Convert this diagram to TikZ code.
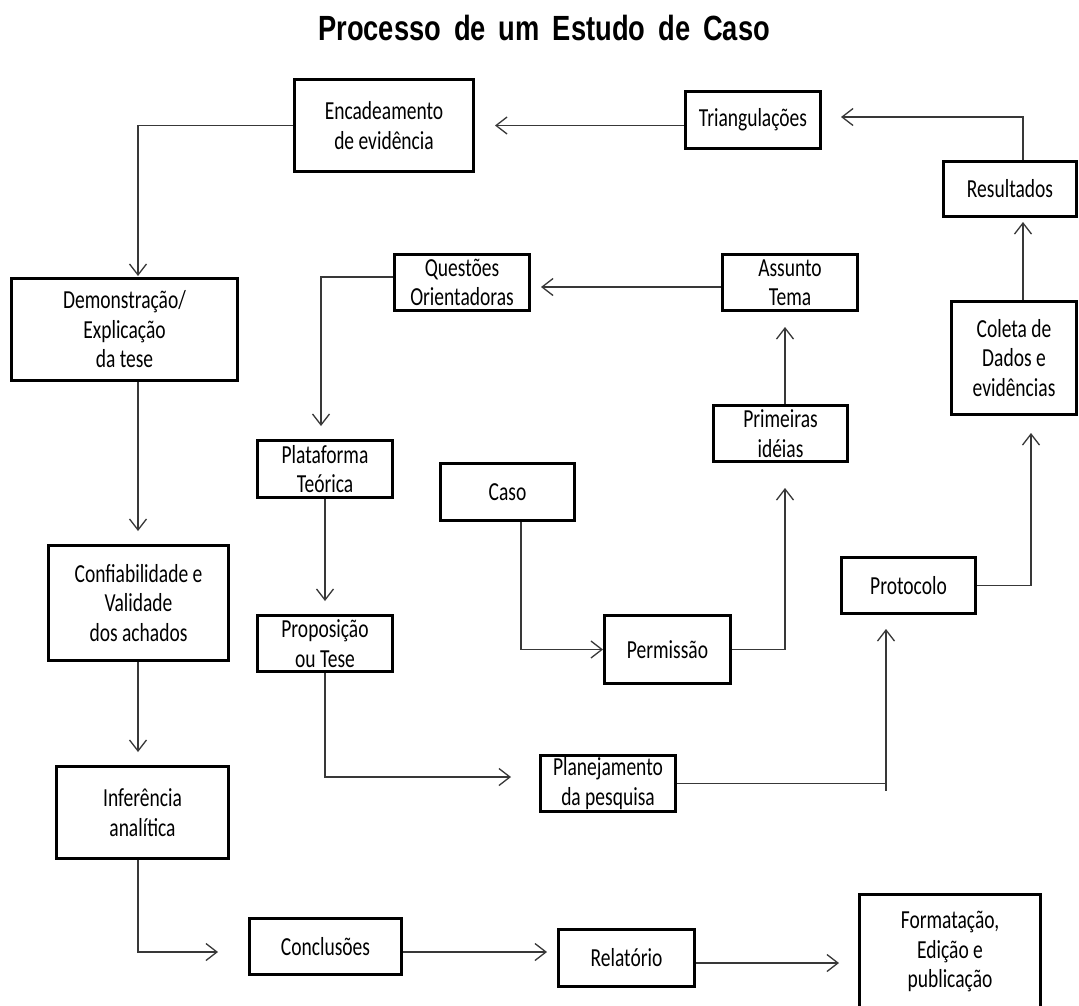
\documentclass[tikz,border=0pt]{standalone}
\usepackage{fontspec}
\setmainfont{Carlito}[FakeStretch=0.75]
\newfontfamily\titlefont{Liberation Sans}[FakeStretch=0.78]
\usetikzlibrary{arrows.meta}
\begin{document}
\begin{tikzpicture}[x=1pt,y=-1pt,
  box/.style={draw=black, line width=3pt, fill=white, inner sep=0pt,
    align=center, font=\fontsize{26}{29.5}\selectfont},
  wire/.style={draw=black!78, line width=1.3pt},
  conn/.style={wire, -{Straight Barb[length=11pt,width=17pt]}}]

\useasboundingbox (0,0) rectangle (1079,1005);
\clip (0,0) rectangle (1079,1005);
\fill[white] (0,0) rectangle (1079,1005);

% title
\node[anchor=base west, inner sep=0pt] (title) at (318,40)
  {\titlefont\bfseries\fontsize{35}{35}\selectfont
   Processo\hspace{13pt}de\hspace{13pt}um\hspace{13pt}Estudo\hspace{13pt}de\hspace{13pt}Caso};

% boxes
\node[box, minimum width=179, minimum height=92]  (enc) at (384,125.5) {Encadeamento\\de evidência};
\node[box, minimum width=135, minimum height=57]  (tri) at (753,120)   {Triangulações};
\node[box, minimum width=133, minimum height=55]  (res) at (1010,189)  {Resultados};
\node[box, minimum width=135, minimum height=56]  (que) at (462,282.5) {Questões\\Orientadoras};
\node[box, minimum width=135, minimum height=56]  (ass) at (790,282.5) {Assunto\\Tema};
\node[box, minimum width=125, minimum height=113] (col) at (1014,358)  {Coleta de\\Dados e\\evidências};
\node[box, minimum width=226, minimum height=102] (dem) at (124.5,329.5) {Demonstração/\\Explicação\\da tese};
\node[box, minimum width=134, minimum height=56]  (pri) at (780.5,433.5) {Primeiras\\idéias};
\node[box, minimum width=135, minimum height=57]  (pla) at (325,469)   {Plataforma\\Teórica};
\node[box, minimum width=134, minimum height=57]  (cas) at (507.5,492) {Caso};
\node[box, minimum width=180, minimum height=115] (con) at (138.5,603) {Confiabilidade e\\Validade\\dos achados};
\node[box, minimum width=134, minimum height=56]  (pro) at (908.5,585.5) {Protocolo};
\node[box, minimum width=135, minimum height=56]  (prp) at (325,643.5) {Proposição\\ou Tese};
\node[box, minimum width=126, minimum height=68]  (per) at (667.5,649.5) {Permissão};
\node[box, minimum width=135, minimum height=56]  (plj) at (608,783.5) {Planejamento\\da pesquisa};
\node[box, minimum width=172, minimum height=92]  (inf) at (142.5,812.5) {Inferência\\analítica};
\node[box, minimum width=152, minimum height=56]  (clu) at (325.5,946.5) {Conclusões};
\node[box, minimum width=136, minimum height=57]  (rel) at (626.5,958) {Relatório};
\node[box, minimum width=181, minimum height=114] (fmt) at (950,951.5) {Formatação,\\Edição e\\publicação};

% guide positions for the routed connectors
\coordinate (xd) at (138,0);
\coordinate (xv) at (321,0);
\coordinate (xk) at (521,0);
\coordinate (xq) at (785,0);
\coordinate (xp) at (886,0);
\coordinate (xr) at (1023,0);
\coordinate (xc) at (1031,0);
\coordinate (yt) at (0,117);
\coordinate (yq) at (0,277);
\coordinate (ya) at (0,287);
\coordinate (yp) at (0,777);
\coordinate (yb) at (0,952);
\coordinate (yc) at (0,963);

% connectors
\draw[conn, shorten >=20pt] (tri.west |- enc.east) -- (enc.east);
\draw[conn, shorten >=19pt] (res.north -| xr) |- (tri.east |- yt);
\draw[conn, shorten >=4pt]  (col.north -| xr) -- (res.south -| xr);
\draw[conn, shorten >=17pt] (pro.east) -| (col.south -| xc);
\draw[conn, shorten >=14pt] (plj.east) -| (pro.south -| xp);
\draw[wire] (plj.east -| xp) -- ++(0,7);
\draw[conn, shorten >=28pt] (prp.south) |- (plj.west |- yp);
\draw[conn] (cas.south -| xk) |- (per.west);
\draw[conn, shorten >=25pt] (per.east) -| (pri.south -| xq);
\draw[conn, shorten >=15pt] (pri.north -| xq) -- (ass.south -| xq);
\draw[conn, shorten >=10pt] (ass.west |- ya) -- (que.east |- ya);
\draw[conn, shorten >=13pt] (que.west |- yq) -| (pla.north -| xv);
\draw[conn, shorten >=13pt] (pla.south) -- (prp.north);
\draw[conn, shorten >=1pt]  (enc.west) -| (dem.north -| xd);
\draw[conn, shorten >=13pt] (dem.south -| xd) -- (con.north -| xd);
\draw[conn, shorten >=13pt] (con.south -| xd) -- (inf.north -| xd);
\draw[conn, shorten >=30pt] (inf.south -| xd) |- (clu.west |- yb);
\draw[conn, shorten >=10pt] (clu.east |- yb) -- (rel.west |- yb);
\draw[conn, shorten >=19pt] (rel.east |- yc) -- (fmt.west |- yc);

\end{tikzpicture}
\end{document}
